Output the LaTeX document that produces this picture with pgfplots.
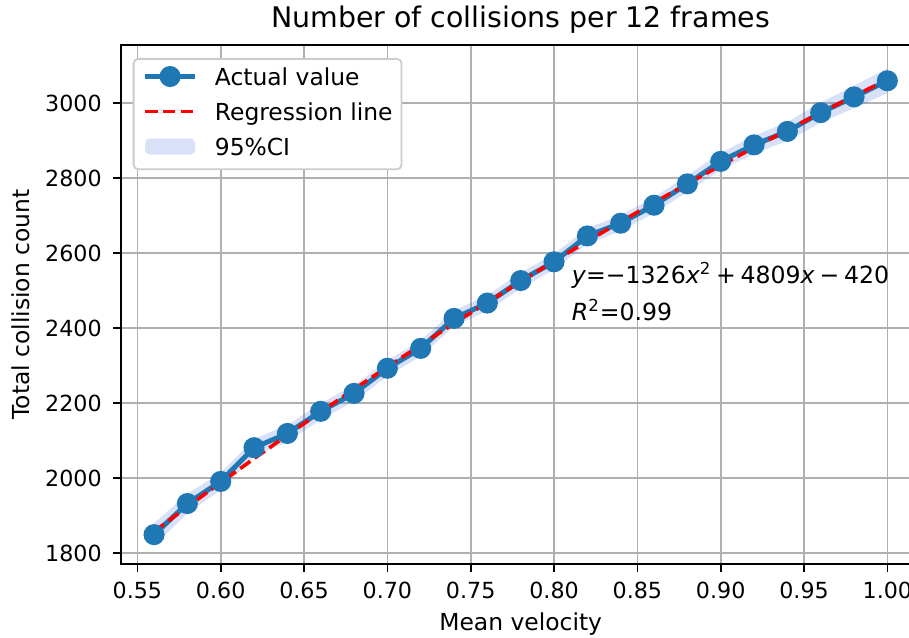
\documentclass[border=0pt]{standalone}
\usepackage{fontspec}
\setmainfont{DejaVu Sans}
\usepackage{pgfplots}
\usepackage{pgfplotstable}
\pgfplotsset{compat=1.18}
\usepgfplotslibrary{fillbetween}
\definecolor{tabblue}{RGB}{31,119,180}
\definecolor{royalblue}{RGB}{65,105,225}
\definecolor{gridgray}{RGB}{176,176,176}
\definecolor{legedge}{RGB}{204,204,204}

\pgfplotsset{
  actlegend/.style={legend image code/.code={\draw[mark repeat=2, mark phase=2, ##1] plot coordinates {(0pt,4.27pt) (12.5pt,4.27pt) (25pt,4.27pt)};}},
  reglegend/.style={legend image code/.code={\draw[##1] (0pt,4.27pt) -- (25pt,4.27pt);}},
  cilegend/.style={legend image code/.code={\path[fill=royalblue, fill opacity=0.2, draw=none] (0pt,0.27pt) rectangle (25pt,8.27pt);}},
}

\pgfplotstableread{
x    act   lo    hi    reg
0.56 1849  1819  1879  1857.2
0.58 1932  1906  1958  1923.2
0.60 1991  1968  2014  1988.0
0.62 2081  2058  2104  2051.9
0.64 2119  2097  2141  2114.6
0.66 2178  2156  2200  2176.3
0.68 2226  2205  2247  2237.0
0.70 2293  2272  2314  2296.6
0.72 2346  2325  2367  2355.1
0.74 2426  2405  2447  2412.5
0.76 2467  2446  2488  2468.9
0.78 2527  2506  2548  2524.3
0.80 2577  2556  2598  2578.6
0.82 2646  2625  2667  2631.8
0.84 2680  2659  2701  2683.9
0.86 2728  2707  2749  2735.0
0.88 2785  2763  2807  2785.1
0.90 2845  2822  2868  2834.0
0.92 2889  2865  2913  2882.0
0.94 2925  2900  2950  2928.8
0.96 2975  2948  3002  2974.6
0.98 3017  2987  3047  3019.3
1.00 3060  3027  3093  3063.0
}\datatable

\begin{document}
\begin{tikzpicture}
\begin{axis}[
  scale only axis,
  width=400pt, height=259.5pt,
  xmin=0.54, xmax=1.02, ymin=1770.7, ymax=3155.5,
  xtick={0.55,0.60,0.65,0.70,0.75,0.80,0.85,0.90,0.95,1.00},
  ytick={1800,2000,2200,2400,2600,2800,3000},
  xtick pos=bottom, ytick pos=left,
  tick align=outside, major tick length=3.78pt,
  tick style={black, line width=0.86pt},
  axis line style={line width=0.86pt},
  grid=major, grid style={color=gridgray, line width=0.86pt},
  /pgf/number format/assume math mode=true,
  xticklabel style={/pgf/number format/.cd, fixed, fixed zerofill, precision=2, /tikz/.cd,
    font=\fontsize{11.1}{13}\selectfont, anchor=north, inner sep=0pt, yshift=-5.07pt},
  yticklabel style={/pgf/number format/.cd, 1000 sep={}, /tikz/.cd,
    font=\fontsize{11.1}{13}\selectfont, anchor=east, inner sep=0pt, xshift=-5.5pt},
  every axis title shift=0pt,
  title={Number of collisions per 12 frames},
  title style={at={(axis description cs:0.5,1.0328)}, anchor=base, inner sep=0pt,
    font=\fontsize{14.2}{17}\selectfont},
  xlabel={Mean velocity},
  xlabel style={at={(axis description cs:0.5,-0.128)}, anchor=base, inner sep=0pt,
    font=\fontsize{11.7}{14}\selectfont},
  ylabel={Total collision count},
  ylabel style={at={(axis description cs:-0.1134,0.5)}, anchor=base, inner sep=0pt,
    font=\fontsize{11.7}{14}\selectfont},
  legend cell align=left,
  legend style={at={(axis description cs:0.015,0.975)}, anchor=north west,
    draw=legedge, line width=0.9pt, rounded corners=2.3pt, fill=white,
    inner xsep=4.5pt, inner ysep=4.6pt, row sep=6.5pt,
    font=\fontsize{11.7}{14}\selectfont,
    nodes={inner sep=0pt, text height=8.5pt, text depth=2.5pt, anchor=base west},
    /tikz/every odd column/.append style={column sep=8.65pt}},
]
\addplot[draw=none, name path=upper, forget plot] table[x=x, y=hi] {\datatable};
\addplot[draw=none, name path=lower, forget plot] table[x=x, y=lo] {\datatable};
\addplot[fill=royalblue, fill opacity=0.2, draw=none, forget plot] fill between[of=upper and lower];

\addplot[actlegend, tabblue, line width=2.5pt, mark=*, mark size=4pt,
  mark options={draw=none, fill=tabblue}]
  table[x=x, y=act] {\datatable};
\addlegendentry{Actual value}

\addplot[reglegend, red, line width=1.8pt, dash pattern=on 6.2pt off 2.7pt]
  table[x=x, y=reg] {\datatable};
\addlegendentry{Regression line}

\addlegendimage{cilegend}
\addlegendentry{95\%CI}

\node[anchor=base west, inner sep=0pt, font=\fontsize{11.8}{14}\selectfont] at (axis cs:0.8105,2520.4)
  {\textit{y}=−1326\textit{x}\textsuperscript{2}\hspace{0.2em}+\hspace{0.2em}4809\textit{x}\hspace{0.2em}−\hspace{0.2em}420};
\node[anchor=base west, inner sep=0pt, font=\fontsize{11.8}{14}\selectfont] at (axis cs:0.8105,2421.7)
  {\textit{R}\textsuperscript{2}=0.99};
\end{axis}
\pgfresetboundingbox
\path[use as bounding box] (-60.35pt,-36.5pt) rectangle (394.15pt,282pt);
\end{tikzpicture}
\end{document}
